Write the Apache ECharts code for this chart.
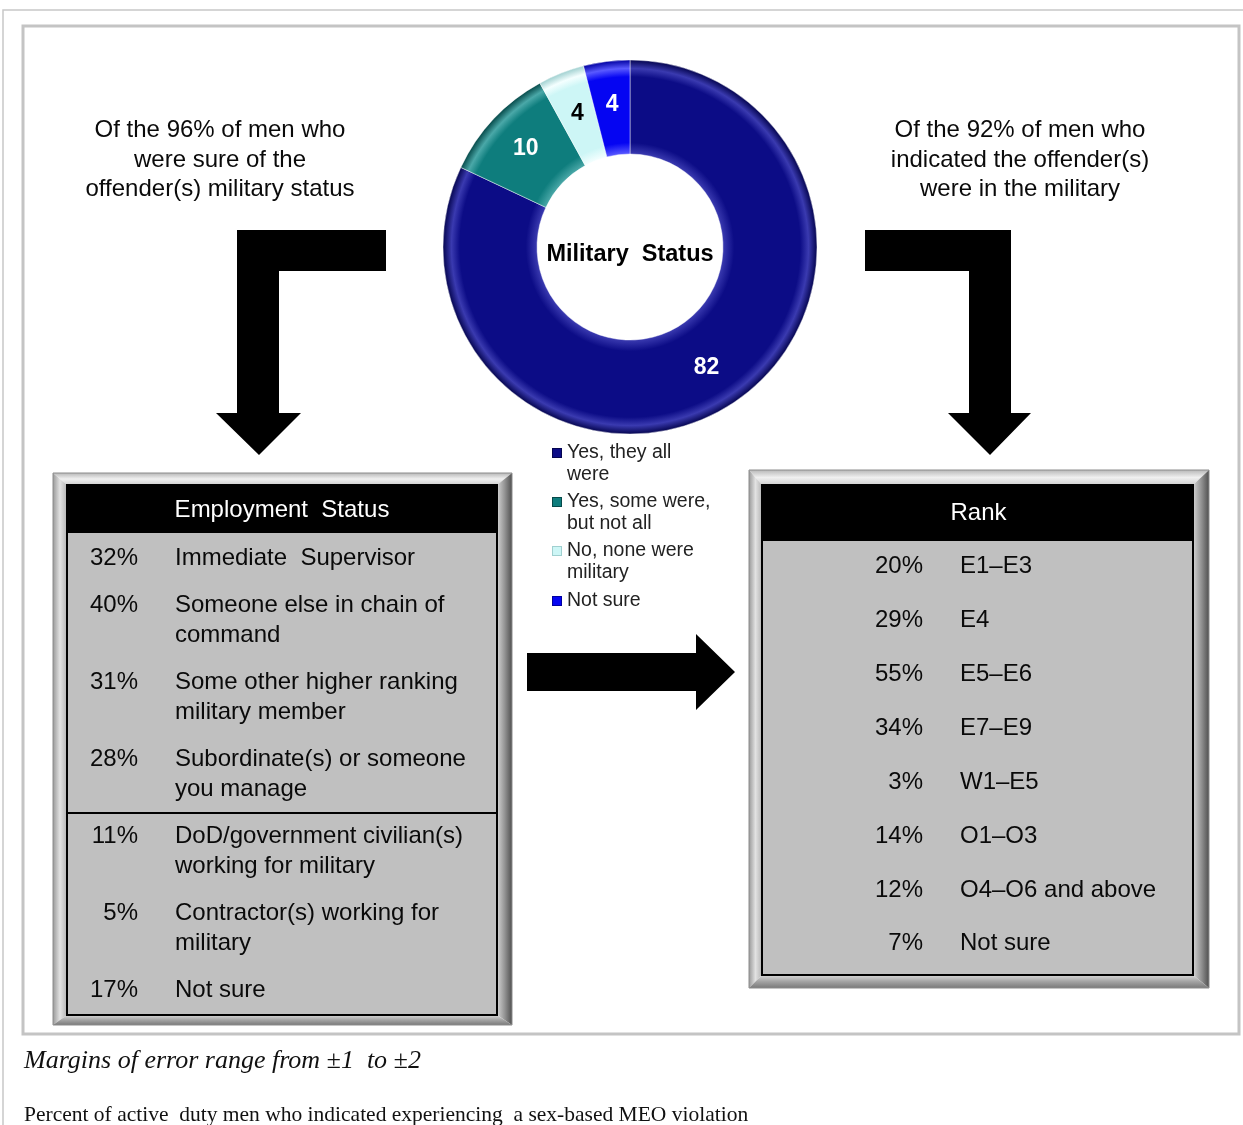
<!DOCTYPE html>
<html>
<head>
<meta charset="utf-8">
<script src="https://cdn.jsdelivr.net/npm/echarts@6/dist/echarts.min.js"></script>
<style>
  html, body { margin: 0; padding: 0; background: #fff; }
  #main { width: 1243px; height: 1125px; }
</style>
</head>
<body>
<div id="main"></div>
<script>
// donut: military status of the offender(s)
var statusNames = ['Yes, they all were', 'Yes, some were, but not all', 'No, none were military', 'Not sure'];
var statusLegend = ['Yes, they all\nwere', 'Yes, some were,\nbut not all', 'No, none were\nmilitary', 'Not sure'];
var statusValues = [82, 10, 4, 4];

// left table
var employmentTitle = 'Employment  Status';
var employmentLabels = [
  'Immediate  Supervisor',
  'Someone else in chain of\ncommand',
  'Some other higher ranking\nmilitary member',
  'Subordinate(s) or someone\nyou manage',
  'DoD/government civilian(s)\nworking for military',
  'Contractor(s) working for\nmilitary',
  'Not sure'
];
var employmentValues = [32, 40, 31, 28, 11, 5, 17];
var militaryRows = 4; // first rows are military members, line drawn after them

// right table
var rankTitle = 'Rank';
var rankLabels = ['E1\u2013E3', 'E4', 'E5\u2013E6', 'E7\u2013E9', 'W1\u2013E5', 'O1\u2013O3', 'O4\u2013O6 and above', 'Not sure'];
var rankValues = [20, 29, 55, 34, 3, 14, 12, 7];

var leftNote = 'Of the 96% of men who\nwere sure of the\noffender(s) military status';
var rightNote = 'Of the 92% of men who\nindicated the offender(s)\nwere in the military';
var centerTitle = 'Military  Status';
var marginNote = 'Margins of error range from \u00b11  to \u00b12';
var captionNote = 'Percent of active  duty men who indicated experiencing  a sex-based MEO violation';

// styles
var SANS = '"Liberation Sans", Arial, sans-serif';
var SERIF = '"Liberation Serif", "Times New Roman", serif';
var sliceBase = ['#0c0c86', '#0e7d7d', '#cdf6f6', '#0505f2'];
var sliceLight = ['#3a3ab0', '#4aa8a8', '#f4ffff', '#5a5aff'];
var sliceDark = ['#050550', '#064a4a', '#a0d0d0', '#0000a0'];
var labelColors = ['#fff', '#fff', '#000', '#fff'];
var CX = 630, CY = 247, R0 = 93, R1 = 187;

var chart = echarts.init(document.getElementById('main'));

function bevelGrad(base, light, dark) {
  var a = R0 / R1;
  return {
    type: 'radial', x: CX, y: CY, r: R1, global: true,
    colorStops: [
      {offset: a, color: light},
      {offset: a + 0.06, color: base},
      {offset: 0.91, color: base},
      {offset: 0.955, color: light},
      {offset: 1, color: dark}
    ]
  };
}

function lin(x2, y2, stops) {
  return {type: 'linear', x: 0, y: 0, x2: x2, y2: y2, colorStops: stops.map(function (c, i) {
    return {offset: i / (stops.length - 1), color: c};
  })};
}

// beveled gray frame round a panel
function bevelFrame(o, n) {
  return [
    {type: 'polygon', shape: {points: [[o[0], o[1]], [o[2], o[1]], [n[2], n[1]], [n[0], n[1]]]},
      style: {fill: lin(0, 1, ['#b8b8b8', '#f0f0f0', '#d0d0d0'])}},
    {type: 'polygon', shape: {points: [[o[0], o[1]], [n[0], n[1]], [n[0], n[3]], [o[0], o[3]]]},
      style: {fill: lin(1, 0, ['#9a9a9a', '#e2e2e2', '#b4b4b4'])}},
    {type: 'polygon', shape: {points: [[o[2], o[1]], [o[2], o[3]], [n[2], n[3]], [n[2], n[1]]]},
      style: {fill: lin(1, 0, ['#d4d4d4', '#959595', '#505050'])}},
    {type: 'polygon', shape: {points: [[o[0], o[3]], [n[0], n[3]], [n[2], n[3]], [o[2], o[3]]]},
      style: {fill: lin(0, 1, ['#d8d8d8', '#a4a4a4', '#7a7a7a'])}},
    {type: 'rect', shape: {x: o[0], y: o[1], width: o[2] - o[0], height: o[3] - o[1]},
      style: {fill: 'none', stroke: '#8c8c8c', lineWidth: 1}},
    {type: 'rect', shape: {x: n[0], y: n[1], width: n[2] - n[0], height: n[3] - n[1]},
      style: {fill: '#c0c0c0', stroke: '#000', lineWidth: 2}}
  ];
}

function txt(x, y, text, size, opts) {
  opts = opts || {};
  return {
    type: 'text', x: x, y: y, z: 10,
    style: {
      text: text,
      fontSize: size,
      fontFamily: opts.family || SANS,
      fontStyle: opts.italic ? 'italic' : 'normal',
      fontWeight: opts.bold ? 'bold' : 'normal',
      fill: opts.color || '#0a0a0a',
      align: opts.align || 'left',
      verticalAlign: opts.valign || 'middle',
      lineHeight: opts.lineHeight || size * 1.2
    }
  };
}

var els = [];

// page frames
els.push({type: 'polyline', shape: {points: [[3, 1125], [3, 10], [1243, 10]]}, style: {stroke: '#c8c8c8', lineWidth: 1.5, fill: 'none'}});
els.push({type: 'rect', shape: {x: 23, y: 26, width: 1216, height: 1008}, style: {fill: 'none', stroke: '#c4c4c4', lineWidth: 3}});

// notes over the arrows
els.push(txt(220, 160, leftNote, 24, {align: 'center', lineHeight: 29.5}));
els.push(txt(1020, 160, rightNote, 24, {align: 'center', lineHeight: 29.5}));

// arrows
els.push({type: 'polygon', shape: {points: [[237, 230], [386, 230], [386, 271], [279, 271], [279, 413], [301, 413], [259, 455], [216, 413], [237, 413]]}, style: {fill: '#000'}});
els.push({type: 'polygon', shape: {points: [[865, 230], [1011, 230], [1011, 413], [1031, 413], [990, 455], [948, 413], [969, 413], [969, 271], [865, 271]]}, style: {fill: '#000'}});
els.push({type: 'polygon', shape: {points: [[527, 653], [696, 653], [696, 634], [735, 672], [696, 710], [696, 691], [527, 691]]}, style: {fill: '#000'}});

// employment status table
var eo = [53, 473, 512, 1025], en = [67, 485, 497, 1015];
els = els.concat(bevelFrame(eo, en));
els.push({type: 'rect', z: 5, shape: {x: en[0], y: en[1], width: en[2] - en[0], height: 48}, style: {fill: '#000'}});
els.push(txt((en[0] + en[2]) / 2, 510, employmentTitle, 24, {align: 'center', color: '#fff'}));
var y = 558.5;
employmentLabels.forEach(function (lab, i) {
  var lines = lab.split('\n').length;
  els.push(txt(138, y, employmentValues[i] + '%', 24, {align: 'right'}));
  els.push(txt(175, y - 15, lab, 24, {valign: 'top', lineHeight: 30}));
  var next = y + lines * 30 + 17;
  if (i === militaryRows - 1) {
    var ly = (y + lines * 30 - 15 + next - 15) / 2;
    els.push({type: 'line', z: 6, shape: {x1: en[0], y1: ly, x2: en[2], y2: ly}, style: {stroke: '#000', lineWidth: 2}});
  }
  y = next;
});

// rank table
var ro = [749, 470, 1209, 988], rn = [762, 485, 1193, 975];
els = els.concat(bevelFrame(ro, rn));
els.push({type: 'rect', z: 5, shape: {x: rn[0], y: rn[1], width: rn[2] - rn[0], height: 56}, style: {fill: '#000'}});
els.push(txt((rn[0] + rn[2]) / 2 + 1, 513, rankTitle, 24, {align: 'center', color: '#fff'}));
rankLabels.forEach(function (lab, i) {
  var ry = 566.5 + i * 53.9;
  els.push(txt(923, ry, rankValues[i] + '%', 24, {align: 'right'}));
  els.push(txt(960, ry, lab, 24));
});

// footer notes
els.push(txt(24, 1061, marginNote, 26, {family: SERIF, italic: true, color: '#111'}));
els.push(txt(24, 1115, captionNote, 21.5, {family: SERIF, color: '#111'}));

// donut center
els.push(txt(CX, 255, centerTitle, 23.5, {align: 'center', bold: true, color: '#000'}));

var rich = {sp: {width: 8, height: 8}, t: {fontSize: 19.5, fontFamily: SANS, color: '#222', lineHeight: 22, padding: [0, 0, 0, 6]}};
sliceBase.forEach(function (c, i) {
  rich['m' + i] = {width: 8, height: 8, backgroundColor: c, borderColor: sliceDark[i], borderWidth: 1};
});

var option = {
  backgroundColor: '#fff',
  animation: false,
  legend: {
    orient: 'vertical',
    left: 548,
    top: 443,
    padding: 0,
    icon: 'none',
    itemWidth: 0,
    itemHeight: 22,
    itemGap: 7,
    selectedMode: false,
    data: statusNames,
    formatter: function (name) {
      var i = statusNames.indexOf(name);
      return statusLegend[i].split('\n').map(function (l, k) {
        return (k === 0 ? '{m' + i + '|}' : '{sp|}') + '{t|' + l + '}';
      }).join('\n');
    },
    textStyle: {rich: rich}
  },
  graphic: {elements: els},
  series: [{
    type: 'pie',
    center: [CX, CY],
    radius: [R0, R1],
    startAngle: 90,
    clockwise: true,
    avoidLabelOverlap: false,
    emphasis: {disabled: true},
    label: {
      show: true,
      position: 'inside',
      formatter: '{c}',
      fontSize: 23,
      fontWeight: 'bold',
      fontFamily: SANS
    },
    labelLine: {show: false},
    data: statusValues.map(function (v, i) {
      return {
        name: statusNames[i],
        value: v,
        itemStyle: {color: bevelGrad(sliceBase[i], sliceLight[i], sliceDark[i]), borderColor: 'rgba(255,255,255,0.45)', borderWidth: 1},
        label: {color: labelColors[i]}
      };
    })
  }]
};

chart.setOption(option);
</script>
</body>
</html>
